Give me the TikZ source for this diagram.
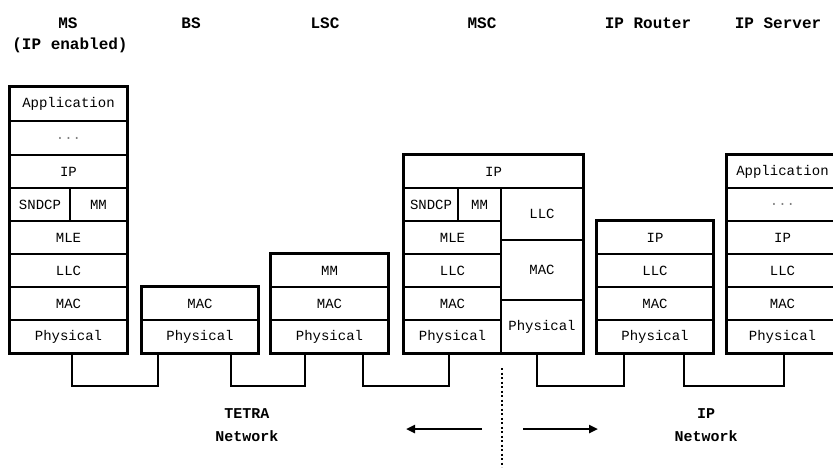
\documentclass[tikz,border=0pt]{standalone}
\usepackage{fontspec}
\setmainfont{Liberation Mono}
\usetikzlibrary{arrows.meta}
\begin{document}
\begin{tikzpicture}[x=1pt,y=-1pt,
  cell/.style={draw,line width=1.2pt,rectangle,inner sep=0pt,font=\fontsize{14}{14}\selectfont},
  outer/.style={line width=2.4pt},
  conn/.style={line width=2pt},
  title/.style={font=\fontsize{16}{16}\bfseries\selectfont,inner sep=0pt,align=center},
  arr/.style={line width=2.4pt,-{Triangle[length=9pt,width=8pt]}}]
\useasboundingbox (0,0) rectangle (833,467);
\begin{scope}
\clip (0,0) rectangle (833,467);
% ---- macro for cells: name, x1, y1, x2, y2, text
\newcommand\mycell[6]{\node[cell,minimum width={(#4-#2)*1pt},minimum height={(#5-#3)*1pt}] (#1) at ({(#2+#4)/2},{(#3+#5)/2}) {#6};}
% titles
\node[title] (tMS) at (68,23) {MS};
\node[title] (tMS2) at (70,45) {(IP enabled)};
\node[title] (tBS) at (191,23) {BS};
\node[title] (tLSC) at (325,23) {LSC};
\node[title] (tMSC) at (482,23) {MSC};
\node[title] (tR) at (648,23) {IP Router};
\node[title] (tS) at (778,23) {IP Server};
% MS
\mycell{msA}{10}{87}{127}{121}{Application}
\mycell{msD}{10}{121}{127}{155}{\textcolor{gray}{...}}
\mycell{msIP}{10}{155}{127}{188}{IP}
\mycell{msSN}{10}{188}{70}{221}{SNDCP}
\mycell{msMM}{70}{188}{127}{221}{MM}
\mycell{msMLE}{10}{221}{127}{254}{MLE}
\mycell{msLLC}{10}{254}{127}{287}{LLC}
\mycell{msMAC}{10}{287}{127}{320}{MAC}
\mycell{msP}{10}{320}{127}{353}{Physical}
\draw[outer] (msA.north west) rectangle (msP.south east);
% BS
\mycell{bsMAC}{142}{287}{258}{320}{MAC}
\mycell{bsP}{142}{320}{258}{353}{Physical}
\draw[outer] (bsMAC.north west) rectangle (bsP.south east);
% LSC
\mycell{lsMM}{271}{254}{388}{287}{MM}
\mycell{lsMAC}{271}{287}{388}{320}{MAC}
\mycell{lsP}{271}{320}{388}{353}{Physical}
\draw[outer] (lsMM.north west) rectangle (lsP.south east);
% MSC
\mycell{mIP}{404}{155}{583}{188}{IP}
\mycell{mSN}{404}{188}{458}{221}{SNDCP}
\mycell{mMM}{458}{188}{501}{221}{MM}
\mycell{mMLE}{404}{221}{501}{254}{MLE}
\mycell{mLLC}{404}{254}{501}{287}{LLC}
\mycell{mMAC}{404}{287}{501}{320}{MAC}
\mycell{mP}{404}{320}{501}{353}{Physical}
\mycell{mRLLC}{501}{188}{583}{240}{LLC}
\mycell{mRMAC}{501}{240}{583}{300}{MAC}
\mycell{mRP}{501}{300}{583}{353}{Physical}
\draw[outer] (mIP.north west) rectangle (mRP.south east);
% IP Router
\mycell{rIP}{597}{221}{713}{254}{IP}
\mycell{rLLC}{597}{254}{713}{287}{LLC}
\mycell{rMAC}{597}{287}{713}{320}{MAC}
\mycell{rP}{597}{320}{713}{353}{Physical}
\draw[outer] (rIP.north west) rectangle (rP.south east);
% IP Server
\mycell{sA}{727}{155}{838}{188}{Application}
\mycell{sD}{727}{188}{838}{221}{\textcolor{gray}{...}}
\mycell{sIP}{727}{221}{838}{254}{IP}
\mycell{sLLC}{727}{254}{838}{287}{LLC}
\mycell{sMAC}{727}{287}{838}{320}{MAC}
\mycell{sP}{727}{320}{838}{353}{Physical}
\draw[outer] (sA.north west) rectangle (sP.south east);
% connectors
\draw[conn] ([xshift=63pt]msP.south west) -- ++(0,32) -| ([xshift=17pt]bsP.south west);
\draw[conn] ([xshift=90pt]bsP.south west) -- ++(0,32) -| ([xshift=35pt]lsP.south west);
\draw[conn] ([xshift=93pt]lsP.south west) -- ++(0,32) -| ([xshift=46pt]mP.south west);
\draw[conn] ([xshift=37pt]mRP.south west) -- ++(0,32) -| ([xshift=28pt]rP.south west);
\draw[conn] ([xshift=88pt]rP.south west) -- ++(0,32) -| ([xshift=58pt]sP.south west);
% divider
\coordinate (dv1) at (502,368);
\coordinate (dv2) at (502,467);
\draw[line width=1.3pt,dash pattern=on 2pt off 2.5pt] (dv1) -- (dv2);
% arrows
\coordinate (la1) at (482,429);
\coordinate (la2) at (406,429);
\coordinate (ra1) at (523,429);
\coordinate (ra2) at (598,429);
\draw[arr] (la1) -- (la2);
\draw[arr] (ra1) -- (ra2);
% network labels
\node[title,font=\fontsize{15}{23}\bfseries\selectfont] (tetra) at (247,425) {TETRA\\Network};
\node[title,font=\fontsize{15}{23}\bfseries\selectfont] (ipn) at (706,425) {IP\\Network};
\end{scope}
\end{tikzpicture}
\end{document}
